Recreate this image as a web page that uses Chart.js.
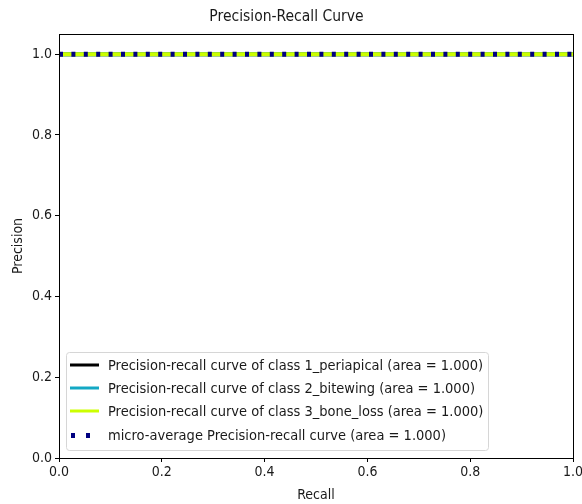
<!DOCTYPE html>
<html>
<head>
<meta charset="utf-8">
<script src="https://cdn.jsdelivr.net/npm/chart.js@4"></script>
<style>
  html, body { margin: 0; padding: 0; background: #fff; }
  #wrap { width: 582px; height: 504px; }
</style>
</head>
<body>
<div id="wrap"><canvas id="c" width="582" height="504"></canvas></div>
<script>
// data
const recall = [0, 1];
const precisionPeriapical = [1, 1];
const precisionBitewing = [1, 1];
const precisionBoneLoss = [1, 1];
const precisionMicro = [1, 1];
const seriesLabels = [
  'Precision-recall curve of class 1_periapical (area = 1.000)',
  'Precision-recall curve of class 2_bitewing (area = 1.000)',
  'Precision-recall curve of class 3_bone_loss (area = 1.000)',
  'micro-average Precision-recall curve (area = 1.000)'
];
const xTicks = [0, 0.2, 0.4, 0.6, 0.8, 1.0];
const yTicks = [0, 0.2, 0.4, 0.6, 0.8, 1.0];

const FONT = "'DejaVu Sans Condensed', 'DejaVu Sans', sans-serif";

function pts(ys) {
  return recall.map((x, i) => ({ x: x, y: ys[i] }));
}

// box around the plot + legend inside the axes (lower left)
const framePlugin = {
  id: 'frame',
  afterDatasetsDraw(chart) {
    const { ctx, chartArea: a } = chart;
    ctx.save();
    ctx.strokeStyle = '#000';
    ctx.lineWidth = 1;
    ctx.strokeRect(Math.round(a.left) + 0.5, Math.round(a.top) + 0.5,
      Math.round(a.right - a.left), Math.round(a.bottom - a.top));

    // legend
    const lx = 66, ly = 352, lw = 422, lh = 98;
    ctx.fillStyle = 'rgba(255,255,255,0.8)';
    ctx.strokeStyle = '#d6d6d6';
    ctx.beginPath();
    ctx.roundRect(lx + 0.5, ly + 0.5, lw, lh, 3);
    ctx.fill();
    ctx.stroke();
    const rows = [365, 388, 411, 435];
    ctx.font = '14.5px ' + FONT;
    ctx.textBaseline = 'middle';
    chart.data.datasets.forEach((ds, i) => {
      const y = rows[i];
      ctx.save();
      ctx.strokeStyle = ds.borderColor;
      ctx.lineWidth = 3;
      if (ds.borderDash && ds.borderDash.length) {
        ctx.fillStyle = ds.borderColor;
        ctx.fillRect(71, y - 2, 4, 5);
        ctx.fillRect(86, y - 2, 4, 5);
      } else {
        ctx.beginPath();
        ctx.moveTo(70, y);
        ctx.lineTo(99, y);
        ctx.stroke();
      }
      ctx.restore();
      ctx.fillStyle = '#1a1a1a';
      ctx.fillText(ds.label, 108, y + 1);
    });
    ctx.restore();
  }
};

new Chart(document.getElementById('c'), {
  type: 'line',
  data: {
    datasets: [
      { label: seriesLabels[0], data: pts(precisionPeriapical), borderColor: '#000000', borderWidth: 4, order: 3 },
      { label: seriesLabels[1], data: pts(precisionBitewing), borderColor: '#13a8c4', borderWidth: 4, order: 2 },
      { label: seriesLabels[2], data: pts(precisionBoneLoss), borderColor: '#ccff00', borderWidth: 4, order: 1 },
      { label: seriesLabels[3], data: pts(precisionMicro), borderColor: '#000080', borderWidth: 5,
        borderDash: [4, 8.4], borderCapStyle: 'butt', order: 0 }
    ]
  },
  options: {
    responsive: false,
    animation: false,
    devicePixelRatio: 1,
    layout: { padding: { left: 0, right: 9, top: 0, bottom: 0 } },
    elements: { point: { radius: 0 }, line: { tension: 0 } },
    plugins: {
      legend: { display: false },
      tooltip: { enabled: false },
      title: {
        display: true,
        text: 'Precision-Recall Curve',
        color: '#1a1a1a',
        font: { family: FONT, size: 15.5, weight: 'normal' },
        padding: { top: 8, bottom: 7.4 }
      }
    },
    scales: {
      x: {
        type: 'linear',
        min: 0, max: 1,
        afterBuildTicks(s) { s.ticks = xTicks.map(v => ({ value: v })); },
        afterFit(s) { s.height = 46; s.paddingLeft = 0; s.paddingRight = 0; },
        grid: { drawOnChartArea: false, drawTicks: true, tickLength: 4, color: '#000' },
        border: { display: true, color: '#000' },
        ticks: {
          color: '#1a1a1a', padding: 2, maxRotation: 0,
          font: { family: FONT, size: 14 },
          callback: v => v.toFixed(1)
        },
        title: {
          display: true, text: 'Recall', color: '#1a1a1a',
          font: { family: FONT, size: 14 }, padding: { top: 3, bottom: 0 }
        }
      },
      y: {
        type: 'linear',
        min: 0, max: 1.05,
        afterBuildTicks(s) { s.ticks = yTicks.map(v => ({ value: v })); },
        afterFit(s) { s.width = 59; s.paddingTop = 0; s.paddingBottom = 0; },
        grid: { drawOnChartArea: false, drawTicks: true, tickLength: 4, color: '#000' },
        border: { display: true, color: '#000' },
        ticks: {
          color: '#1a1a1a', padding: 3,
          font: { family: FONT, size: 14 },
          callback: v => v.toFixed(1)
        },
        title: {
          display: true, text: 'Precision', color: '#1a1a1a',
          font: { family: FONT, size: 14 }, padding: { top: 10, bottom: 4 }
        }
      }
    }
  },
  plugins: [framePlugin]
});
</script>
</body>
</html>
